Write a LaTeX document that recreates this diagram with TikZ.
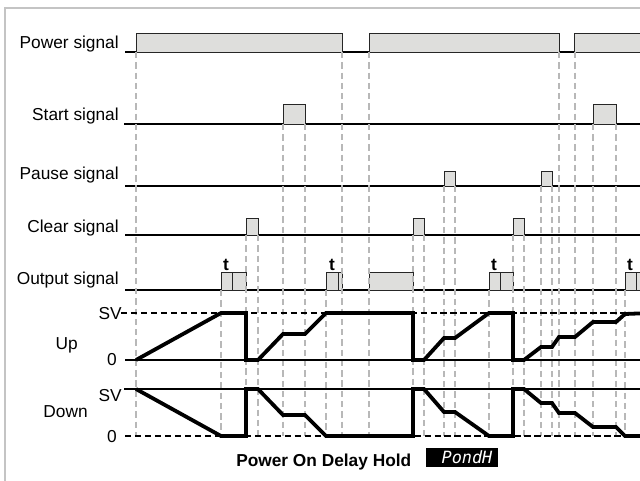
\documentclass[tikz,border=0pt]{standalone}
\usepackage{fontspec}
\setmainfont{Liberation Sans}
\setmonofont{DejaVu Sans Mono}
\definecolor{boxgray}{RGB}{222,222,220}
\definecolor{guidegray}{RGB}{184,184,184}
\definecolor{framegray}{RGB}{196,196,196}

\begin{document}
\begin{tikzpicture}[x=0.025cm, y=-0.025cm,
        font=\fontsize{12.3}{14}\selectfont,
        pulse/.style={draw=black!85, fill=boxgray, line width=0.7pt},
        level/.style={line width=0.8pt},
        guide/.style={draw=guidegray, line width=1.6pt, dash pattern=on 4.5pt off 2.8pt},
        refline/.style={line width=1.3pt, dash pattern=on 4.5pt off 2.6pt},
        count/.style={line width=2.7pt},
        lbl/.style={anchor=base east, inner sep=0pt}]
    \useasboundingbox (0,0) rectangle (640,481);
    % frame
    \draw [framegray, line width=1.1pt] (5,481) -- (5,8) -- (650,8);

    % signal baselines
    \draw [level] (125,52) -- (650,52);
    \draw [level] (124,124) -- (650,124);
    \draw [level] (125,186) -- (650,186);
    \draw [level] (125,235) -- (650,235);
    \draw [level] (125,290) -- (650,290);

    % power
    \draw [pulse] (136,52) rectangle (342,33);
    \draw [pulse] (369,52) rectangle (559,33);
    \draw [pulse] (574,52) rectangle (660,33);
    % start
    \draw [pulse] (283,124) rectangle (305,104);
    \draw [pulse] (593,124) rectangle (616,104);
    % pause
    \draw [pulse] (444,186) rectangle (455,171);
    \draw [pulse] (541,186) rectangle (552,171);
    % clear
    \draw [pulse] (246,235) rectangle (258,218);
    \draw [pulse] (413,235) rectangle (424,218);
    \draw [pulse] (513,235) rectangle (524,218);
    % output
    \draw [pulse] (221,290) rectangle (246,272);
    \draw [pulse] (326,290) rectangle (342,272);
    \draw [pulse] (369,290) rectangle (413,272);
    \draw [pulse] (489,290) rectangle (513,272);
    \draw [pulse] (625,290) rectangle (660,272);
    \draw [pulse] (232,272) -- (232,290);
    \draw [pulse] (338,272) -- (338,290);
    \draw [pulse] (500,272) -- (500,290);
    \draw [pulse] (636,272) -- (636,290);

    % guides
    \foreach \x/\y in {136/52, 221/290, 246/235, 258/235, 283/124, 305/124,
                       326/290, 342/52, 369/52, 413/235, 424/235, 444/186,
                       455/186, 489/290, 513/235, 524/235, 541/186, 552/186,
                       559/52, 575/52, 593/124, 616/124, 625/290}
        \draw [guide] (\x,\y) -- (\x,436);

    % SV and 0 levels
    \draw [refline] (121,313) -- (650,313);
    \draw [level] (125,360) -- (650,360);
    \draw [level] (124,389) -- (650,389);
    \draw [refline] (125,436) -- (650,436);

    % up counting
    \draw [count] (136,360) -- (221,313) -- (246,313) -- (246,360) -- (258,360)
        -- (283,334) -- (305,334) -- (326,313) -- (413,313) -- (413,360)
        -- (424,360) -- (444,338) -- (455,338) -- (489,313) -- (513,313)
        -- (513,360) -- (524,360) -- (541,347) -- (552,347) -- (559,337)
        -- (575,337) -- (593,322) -- (616,322) -- (625,314) -- (650,313);
    % down counting
    \draw [count] (136,389) -- (221,436) -- (246,436) -- (246,389) -- (258,389)
        -- (283,415) -- (305,415) -- (326,436) -- (413,436) -- (413,389)
        -- (424,389) -- (444,412) -- (455,412) -- (489,436) -- (513,436)
        -- (513,389) -- (524,389) -- (541,403) -- (552,403) -- (559,413)
        -- (575,413) -- (593,427) -- (616,427) -- (625,436) -- (650,436);

    % labels
    \node [lbl] (pwr) at (119,48) {Power signal};
    \node [lbl] (start) at (119,120) {Start signal};
    \node [lbl] (pause) at (119,179) {Pause signal};
    \node [lbl] (clear) at (119,232) {Clear signal};
    \node [lbl] (out) at (119,284) {Output signal};
    \node [lbl] (svup) at (122,319) {SV};
    \node [lbl] (up) at (78,349) {Up};
    \node [lbl] (zup) at (117,365) {0};
    \node [lbl] (svdown) at (122,401) {SV};
    \node [lbl] (down) at (88,417) {Down};
    \node [lbl] (zdown) at (117,442) {0};
    \node [anchor=base, inner sep=0pt] (t1) at (226,270) {\textbf{t}};
    \node [anchor=base, inner sep=0pt] (t2) at (332,270) {\textbf{t}};
    \node [anchor=base, inner sep=0pt] (t3) at (494,270) {\textbf{t}};
    \node [anchor=base, inner sep=0pt] (t4) at (630,270) {\textbf{t}};

    % mode
    \node [anchor=base west, inner sep=0pt] (mode) at (236,466) {\textbf{Power On Delay Hold}};
    \node [fill=black, text=white, inner sep=0pt, minimum width=1.8cm,
           minimum height=0.475cm, font=\fontsize{12}{14}\selectfont\ttfamily\itshape]
        (disp) at (462,457.5) {\hspace{0.25cm}PondH};
\end{tikzpicture}
\end{document}
